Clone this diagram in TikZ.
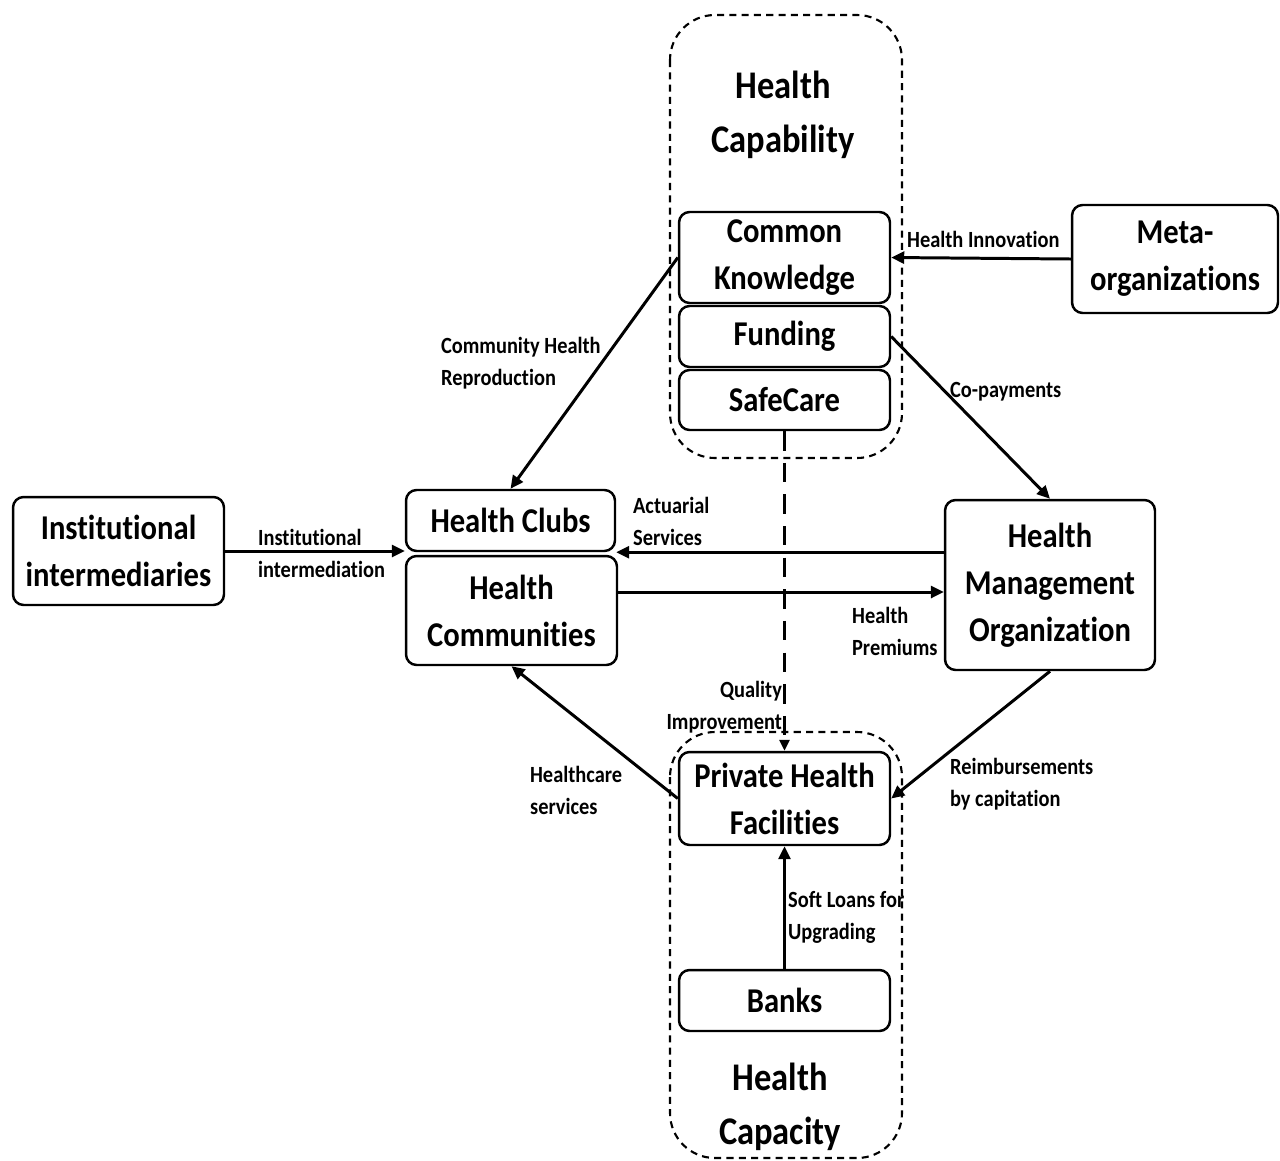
\documentclass[tikz,border=0pt]{standalone}
\usepackage{fontspec}
\setmainfont{Carlito}[Ligatures=NoCommon,FakeStretch=0.88]
\usepackage{xcolor}
\usepackage{tikz}
\usetikzlibrary{calc,arrows.meta,positioning}
\definecolor{inkc}{HTML}{000000}
\tikzset{
  ar/.style={-{Triangle[length=2.6mm,width=2.4mm]},line width=1.7pt,inkc},
  qar/.style={-{Triangle[length=2.2mm,width=2mm]},line width=1.8pt,inkc,dash pattern=on 11pt off 7pt},
  box/.style={draw=inkc,line width=1.4pt,rounded corners=6pt,align=center,inner sep=2pt,
    font=\bfseries\fontsize{19.8}{26.7}\selectfont},
  blob/.style={draw=inkc,line width=1.2pt,rounded corners=0.9cm,dash pattern=on 4pt off 3pt},
  ttl/.style={align=center,font=\bfseries\fontsize{22.3}{30.7}\selectfont},
  lbl/.style={align=left,inner sep=1pt,font=\bfseries\fontsize{13.2}{18.2}\selectfont}
}
\begin{document}
\begin{tikzpicture}[x=0.02cm,y=-0.02cm]
\useasboundingbox (0,0) rectangle (1280,1160);
% dashed groups
\draw[blob] (670,15) rectangle (902,458);
\draw[blob] (670,732) rectangle (902,1158);
\node[ttl] (capab) at (783,115) {Health\\Capability};
\node[ttl] (capac) at (780,1107) {Health\\Capacity};
% boxes
\node[box,minimum width=4.22cm,minimum height=1.82cm] (ck) at (784.5,257.5) {Common\\Knowledge};
\node[box,minimum width=4.22cm,minimum height=1.22cm] (fund) at (784.5,336.5) {Funding};
\node[box,minimum width=4.22cm,minimum height=1.2cm] (safe) at (784.5,400) {SafeCare};
\node[box,minimum width=4.12cm,minimum height=2.16cm] (meta) at (1175,259) {Meta-\\organizations};
\node[box,minimum width=4.22cm,minimum height=2.16cm] (inst) at (118.5,551) {Institutional\\intermediaries};
\node[box,minimum width=4.18cm,minimum height=1.22cm] (clubs) at (510.5,520.5) {Health Clubs};
\node[box,minimum width=4.22cm,minimum height=2.18cm] (comm) at (511.5,610.5) {Health\\Communities};
\node[box,minimum width=4.2cm,minimum height=3.4cm] (hmo) at (1050,585) {Health\\Management\\Organization};
\node[box,minimum width=4.22cm,minimum height=1.86cm] (phf) at (784.5,798.5) {Private Health\\Facilities};
\node[box,minimum width=4.22cm,minimum height=1.22cm] (banks) at (784.5,1000.5) {Banks};
% connectors
\draw[ar] (meta.west) -- (ck.east);
\draw[ar] (ck.west) -- (clubs.north);
\draw[ar] (fund.east) -- (hmo.north);
\draw[qar] (safe.south) -- (phf.north);
\draw[ar] (inst.east) -- (inst.east -| clubs.west);
\draw[ar] (clubs.south east -| hmo.west) -- (clubs.south east);
\draw[ar] ([yshift=0.37cm]comm.east) -- ([yshift=0.37cm]comm.east -| hmo.west);
\draw[ar] (hmo.south) -- (phf.east);
\draw[ar] (phf.west) -- (comm.south);
\draw[ar] (banks.north) -- (phf.south);
% labels
\node[lbl,anchor=west] (l1) at (905,239) {Health Innovation};
\node[lbl,anchor=west] (l2) at (439,363) {Community Health\\Reproduction};
\node[lbl,anchor=west] (l3) at (948,392) {Co-payments};
\node[lbl,anchor=west] (l4) at (631,521) {Actuarial\\Services};
\node[lbl,anchor=west] (l5) at (256,553) {Institutional\\intermediation};
\node[lbl,anchor=west] (l6) at (850,631) {Health\\Premiums};
\node[lbl,anchor=east,align=right] (l7) at (784,707) {Quality\\Improvement};
\node[lbl,anchor=west] (l8) at (528,790) {Healthcare\\services};
\node[lbl,anchor=west] (l9) at (948,784) {Reimbursements\\by capitation};
\node[lbl,anchor=west] (l10) at (786,917) {Soft Loans for\\Upgrading};
\end{tikzpicture}
\end{document}
